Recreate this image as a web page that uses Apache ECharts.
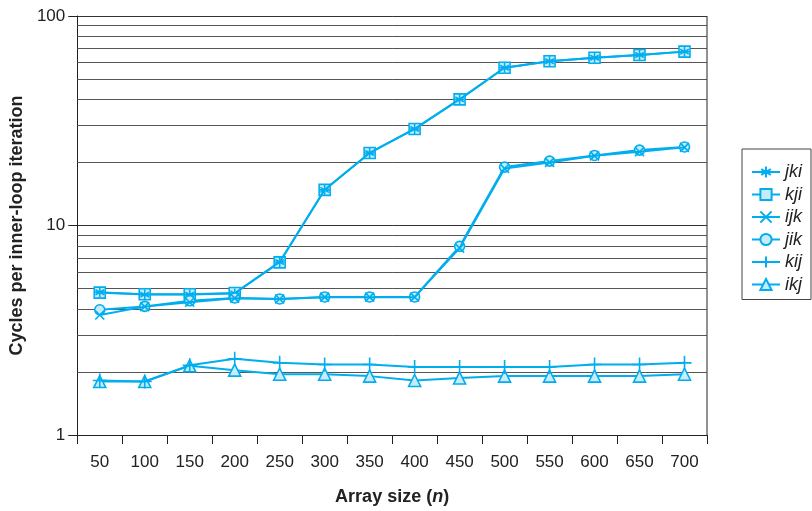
<!DOCTYPE html>
<html><head><meta charset="utf-8">
<script src="https://cdn.jsdelivr.net/npm/echarts@6/dist/echarts.min.js"></script>
<style>html,body{margin:0;padding:0;background:#fff}#c{width:812px;height:511px}</style>
</head><body><div id="c"></div>
<script>
const categories = ['50','100','150','200','250','300','350','400','450','500','550','600','650','700'];
const jki = [4.8, 4.68, 4.68, 4.74, 6.7, 14.8, 22.2, 28.9, 40.0, 56.6, 60.8, 63.2, 65.1, 67.6];
const kji = [4.78, 4.7, 4.7, 4.76, 6.67, 14.8, 22.2, 28.9, 40.0, 56.6, 60.8, 63.2, 65.1, 67.6];
const ijk = [3.74, 4.1, 4.3, 4.5, 4.46, 4.55, 4.55, 4.55, 7.8, 18.7, 20.0, 21.5, 22.5, 23.6];
const jik = [3.96, 4.11, 4.37, 4.51, 4.46, 4.56, 4.56, 4.56, 7.95, 19.0, 20.3, 21.6, 22.9, 23.7];
const kij = [1.82, 1.8, 2.15, 2.31, 2.21, 2.17, 2.17, 2.11, 2.11, 2.11, 2.11, 2.17, 2.17, 2.21];
const ikj = [1.8, 1.8, 2.14, 2.04, 1.95, 1.95, 1.91, 1.82, 1.87, 1.91, 1.91, 1.91, 1.91, 1.95];
const yTicks = [1, 10, 100];
const minorGrid = [2,3,4,5,6,7,8,9,20,30,40,50,60,70,80,90];

const BLUE = '#00aeef', LIGHT = '#c9ebf9';
const FONT = 'Liberation Sans';
const sym = {
  jki: 'path://M5,0L5,10M0.7,2.5L9.3,7.5M0.7,7.5L9.3,2.5M0,5L10,5',
  kji: 'rect',
  ijk: 'path://M0,0L10,10M0,10L10,0',
  jik: 'circle',
  kij: 'path://M5,0L5,10M0,5L10,5',
  ikj: 'triangle'
};
const sizes = {jki: 10, kji: 11, ijk: 9, jik: 10, kij: 14, ikj: 12};
const zs = {kji: 3, jki: 4, jik: 5, ijk: 6, ikj: 7, kij: 8};
const dataMap = {jki, kji, ijk, jik, kij, ikj};
const names = ['jki','kji','ijk','jik','kij','ikj'];

const series = names.map((n, i) => {
  const filled = (n === 'kji' || n === 'jik' || n === 'ikj');
  const s = {
    name: n, type: 'line', data: dataMap[n],
    symbol: sym[n], symbolSize: sizes[n], showAllSymbol: true,
    lineStyle: {color: BLUE, width: 2},
    itemStyle: {color: filled ? LIGHT : BLUE, borderColor: BLUE, borderWidth: 1.6},
    emphasis: {disabled: true}, z: zs[n]
  };
  if (i === 0) {
    s.markLine = {
      silent: true, symbol: ['none','none'], z: 1, animation: false,
      label: {show: false},
      lineStyle: {color: '#555', width: 1, type: 'solid'},
      emphasis: {disabled: true},
      data: minorGrid.map(v => ({yAxis: v}))
    };
  }
  return s;
});

const chart = echarts.init(document.getElementById('c'), null, {renderer: 'canvas'});
chart.setOption({
  animation: false,
  backgroundColor: '#fff',
  textStyle: {fontFamily: FONT},
  grid: {left: 76, right: 105, top: 16, bottom: 75, containLabel: false},
  legend: {
    orient: 'vertical', left: 742, top: 149,
    data: names,
    itemWidth: 28, itemHeight: 14, itemGap: 4.5,
    padding: [14, 9, 6, 9],
    borderColor: '#444', borderWidth: 1,
    textStyle: {fontFamily: FONT, fontStyle: 'italic', fontSize: 18, color: '#222'},
    selectedMode: false
  },
  xAxis: {
    type: 'category', data: categories, boundaryGap: true,
    axisLine: {lineStyle: {color: '#222', width: 1}},
    axisTick: {show: true, length: 9, alignWithLabel: false, lineStyle: {color: '#222'}},
    axisLabel: {fontFamily: FONT, fontSize: 17, color: '#222', margin: 19},
    name: '{b|Array size (}{i|n}{b|)}', nameLocation: 'middle', nameGap: 53,
    nameTextStyle: {rich: {
      b: {fontFamily: FONT, fontWeight: 'bold', fontSize: 18, color: '#222'},
      i: {fontFamily: FONT, fontWeight: 'bold', fontStyle: 'italic', fontSize: 18, color: '#222'}
    }}
  },
  yAxis: {
    type: 'log', logBase: 10, min: 1, max: 100,
    axisLine: {show: true, lineStyle: {color: '#222', width: 1}},
    axisTick: {show: true, length: 9, lineStyle: {color: '#222'}},
    axisLabel: {fontFamily: FONT, fontSize: 17, color: '#222', margin: 12,
      formatter: v => (yTicks.indexOf(Math.round(v)) >= 0 ? String(Math.round(v)) : '')},
    splitLine: {show: true, lineStyle: {color: '#333', width: 1}},
    name: 'Cycles per inner-loop iteration', nameLocation: 'middle', nameGap: 48,
    nameTextStyle: {fontFamily: FONT, fontWeight: 'bold', fontSize: 18, color: '#222'}
  },
  graphic: [{
    type: 'line', shape: {x1: 707, y1: 16, x2: 707, y2: 436}, style: {stroke: '#222', lineWidth: 1}, silent: true
  }],
  series: series
});
</script></body></html>
